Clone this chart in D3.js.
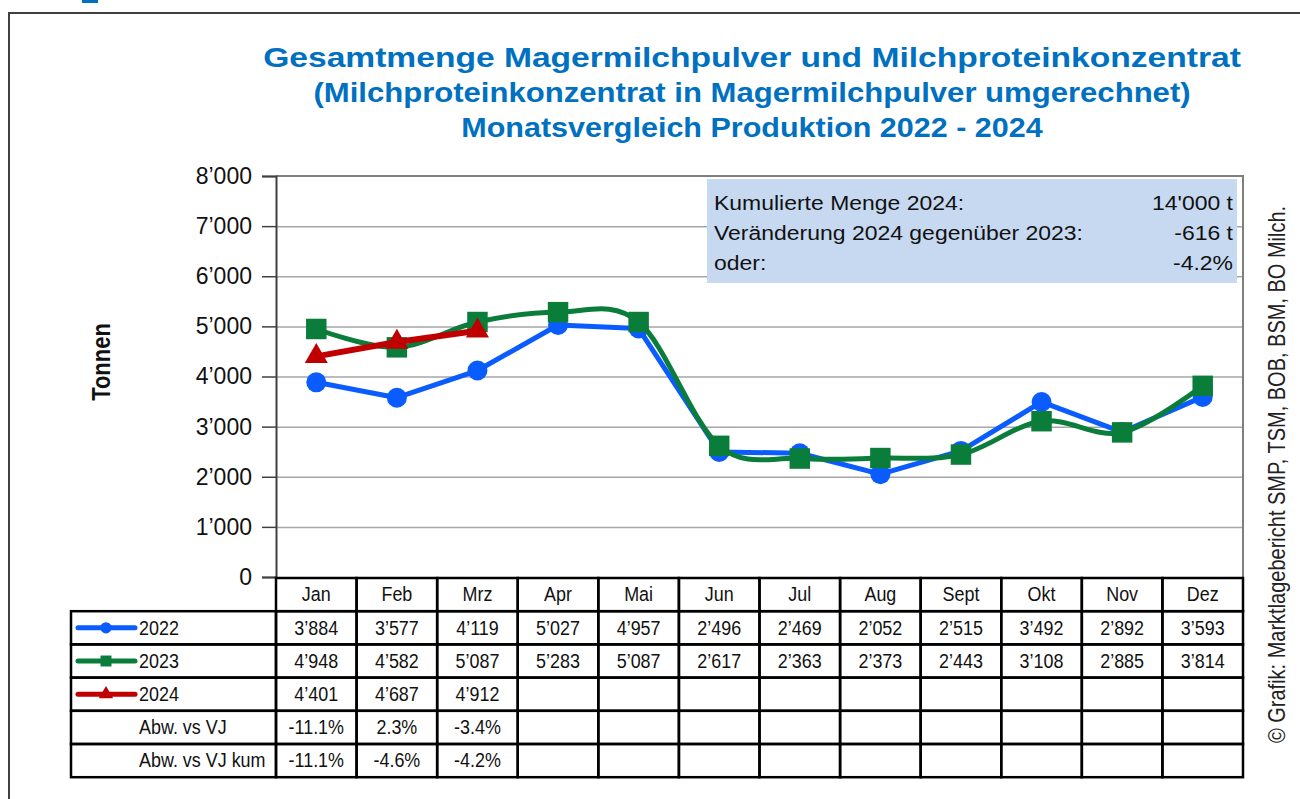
<!DOCTYPE html>
<html>
<head>
<meta charset="utf-8">
<script src="https://cdn.jsdelivr.net/npm/d3@7"></script>
<style>
  body { margin: 0; background: #fff; }
  text { font-family: "Liberation Sans", Arial, sans-serif; }
</style>
</head>
<body>
<div id="chart"></div>
<script>
var w = 1300, h = 799;

var months = ["Jan", "Feb", "Mrz", "Apr", "Mai", "Jun", "Jul", "Aug", "Sept", "Okt", "Nov", "Dez"];
var values2022 = [3884, 3577, 4119, 5027, 4957, 2496, 2469, 2052, 2515, 3492, 2892, 3593];
var values2023 = [4948, 4582, 5087, 5283, 5087, 2617, 2363, 2373, 2443, 3108, 2885, 3814];
var values2024 = [4401, 4687, 4912];
var abwVJ = ["-11.1%", "2.3%", "-3.4%"];
var abwVJkum = ["-11.1%", "-4.6%", "-4.2%"];
var yTicks = [0, 1000, 2000, 3000, 4000, 5000, 6000, 7000, 8000];
var boxLabels = ["Kumulierte Menge 2024:", "Veränderung 2024 gegenüber 2023:", "oder:"];
var boxValues = ["14'000 t", "-616 t", "-4.2%"];
var titleLines = ["Gesamtmenge Magermilchpulver und Milchproteinkonzentrat",
                  "(Milchproteinkonzentrat in Magermilchpulver umgerechnet)",
                  "Monatsvergleich Produktion 2022 - 2024"];

var plot = { left: 276, right: 1243, top: 176, bottom: 577 };
var rowTop = 578, rowH = 33.2, labelLeft = 71;

var fmt = function (v) { return d3.format(",")(v).replace(/,/g, "\u2019"); };

// helper: text with horizontal stretch (the source picture is widened)
function txt(g, x, y, s, o) {
    o = o || {};
    return g.append("text")
        .attr("transform", "translate(" + x + "," + y + ") scale(" + (o.sx || 1) + ",1)" + (o.rot ? " rotate(" + o.rot + ")" : ""))
        .attr("text-anchor", o.anchor || "start")
        .attr("font-size", o.size || 19)
        .attr("font-weight", o.bold ? "bold" : null)
        .attr("fill", o.fill || "#111")
        .attr("dy", o.dy || null)
        .text(s);
}

var svg = d3.select("#chart").append("svg")
    .attr("width", w).attr("height", h);

// outer frame (only left and top visible)
svg.append("path").attr("d", "M9,799V13H1300").attr("fill", "none")
    .attr("stroke", "#404040").attr("stroke-width", 2);
svg.append("rect").attr("x", 82).attr("y", 0).attr("width", 16).attr("height", 3).attr("fill", "#0070C0");

// titles
var titleSx = [1.2, 1.11, 1.09];
titleLines.forEach(function (t, i) {
    txt(svg, 752, [67, 102, 137][i], t, { size: 28, bold: true, sx: titleSx[i], anchor: "middle", fill: "#0070C0" });
});

var x = d3.scaleBand().domain(months).range([plot.left, plot.right]);
var y = d3.scaleLinear().domain([0, 8000]).range([plot.bottom, plot.top]);

// gridlines
svg.append("g")
    .attr("transform", "translate(" + plot.left + ",0)")
    .call(d3.axisLeft(y).tickValues(yTicks.slice(1, -1)).tickSize(-(plot.right - plot.left)).tickFormat(""))
    .call(function (g) { g.select(".domain").remove(); })
    .selectAll("line").attr("stroke", "#a6a6a6").attr("stroke-width", 1.5);

// plot border top/right
svg.append("path")
    .attr("d", "M" + plot.left + "," + plot.top + "H" + plot.right + "V" + plot.bottom)
    .attr("fill", "none").attr("stroke", "#7f7f7f").attr("stroke-width", 2);

// y axis
var yAxis = svg.append("g")
    .attr("transform", "translate(" + plot.left + ",0)")
    .call(d3.axisLeft(y).tickValues(yTicks).tickSize(14).tickPadding(10).tickFormat(fmt));
yAxis.select(".domain").attr("stroke", "#404040").attr("stroke-width", 2);
yAxis.selectAll(".tick line").attr("stroke", "#404040").attr("stroke-width", 1.5);
yAxis.selectAll("text").attr("font-size", 23).attr("fill", "#111")
    .attr("font-family", "'Liberation Sans', Arial, sans-serif");

// axis title
txt(svg, 110, 362, "Tonnen", { size: 22, bold: true, sx: 1.18, rot: -90, anchor: "middle" });

// info box
svg.append("rect").attr("x", 707).attr("y", 179).attr("width", 530).attr("height", 104).attr("fill", "#c6d9f1");
boxLabels.forEach(function (t, i) {
    txt(svg, 714, 210 + i * 30, t, { size: 19.8, sx: 1.16 });
    txt(svg, 1233, 210 + i * 30, boxValues[i], { size: 19.8, sx: 1.16, anchor: "end" });
});

// series
var series = [
    { name: "2022", values: values2022, color: "#0a5cff", width: 5, symbol: d3.symbolCircle, size: 314, lsize: 100, curve: d3.curveLinear },
    { name: "2023", values: values2023, color: "#0b7d3a", width: 5, symbol: d3.symbolSquare, size: 420, lsize: 120, curve: d3.curveCatmullRom.alpha(0) },
    { name: "2024", values: values2024, color: "#c00000", width: 6, symbol: d3.symbolTriangle, size: 230, lsize: 90, curve: d3.curveLinear }
];

var cx = function (d, i) { return x(months[i]) + x.bandwidth() / 2; };

series.forEach(function (s) {
    var line = d3.line().x(cx).y(function (d) { return y(d); }).curve(s.curve);
    svg.append("path").datum(s.values).attr("d", line)
        .attr("fill", "none").attr("stroke", s.color).attr("stroke-width", s.width)
        .attr("stroke-linejoin", "round");
    svg.append("g").selectAll("path").data(s.values).enter().append("path")
        .attr("transform", function (d, i) { return "translate(" + cx(d, i) + "," + y(d) + ")"; })
        .attr("d", d3.symbol().type(s.symbol).size(s.size))
        .attr("fill", s.color);
});

// table
var tbl = svg.append("g");
var rowsText = [
    values2022.map(fmt),
    values2023.map(fmt),
    values2024.map(fmt),
    abwVJ,
    abwVJkum
];
var rowLabels = ["2022", "2023", "2024", "Abw. vs VJ", "Abw. vs VJ kum"];
var tOpt = { size: 19.5, sx: 0.92, dy: "0.35em" };

// header
months.forEach(function (m) {
    tbl.append("rect").attr("x", x(m)).attr("y", rowTop).attr("width", x.bandwidth()).attr("height", rowH)
        .attr("fill", "none").attr("stroke", "#000").attr("stroke-width", 2.5);
    txt(tbl, x(m) + x.bandwidth() / 2, rowTop + rowH / 2, m, Object.assign({ anchor: "middle" }, tOpt));
});

rowLabels.forEach(function (lab, r) {
    var top = rowTop + rowH * (r + 1);
    var mid = top + rowH / 2;
    tbl.append("rect").attr("x", labelLeft).attr("y", top).attr("width", plot.left - labelLeft).attr("height", rowH)
        .attr("fill", "none").attr("stroke", "#000").attr("stroke-width", 2.5);
    months.forEach(function (m, i) {
        tbl.append("rect").attr("x", x(m)).attr("y", top).attr("width", x.bandwidth()).attr("height", rowH)
            .attr("fill", "none").attr("stroke", "#000").attr("stroke-width", 2.5);
        if (rowsText[r][i] !== undefined)
            txt(tbl, x(m) + x.bandwidth() / 2, mid, rowsText[r][i], Object.assign({ anchor: "middle" }, tOpt));
    });
    if (r < 3) {
        var s = series[r];
        tbl.append("line").attr("x1", 78).attr("x2", 135).attr("y1", mid).attr("y2", mid)
            .attr("stroke", s.color).attr("stroke-width", 5).attr("stroke-linecap", "round");
        tbl.append("path").attr("transform", "translate(106," + mid + ")")
            .attr("d", d3.symbol().type(s.symbol).size(s.lsize)).attr("fill", s.color);
    }
    txt(tbl, 139, mid, lab, tOpt);
});

// source note
txt(svg, 1285, 743, "\u00a9 Grafik: Marktlagebericht SMP, TSM, BOB, BSM, BO Milch.", { size: 20, sx: 1.18, rot: -90, fill: "#222" });
</script>
</body>
</html>
